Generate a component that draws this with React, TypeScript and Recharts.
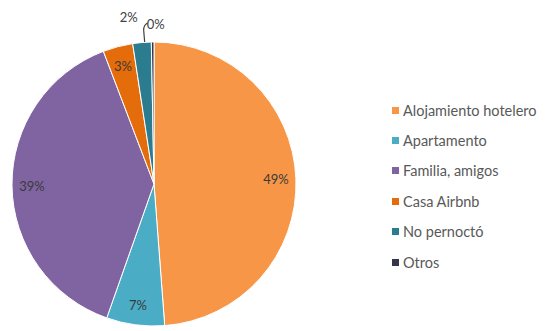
import { PieChart, Pie, Cell, Legend } from "recharts"

const categories = ["Alojamiento hotelero", "Apartamento", "Familia, amigos", "Casa Airbnb", "No pernoctó", "Otros"]
const shares = [48.8, 6.6, 38.8, 3.4, 2.1, 0.3]
const colors = ["#F79646", "#4BACC6", "#8064A2", "#E46C0A", "#2B7C8F", "#36364A"]

const data = categories.map((name, i) => ({ name, value: shares[i] }))

const RADIAN = Math.PI / 180
const FONT = "Lato, 'Open Sans', sans-serif"

function renderLabel(props: any) {
  const { cx, cy, midAngle, outerRadius, percent, index } = props
  const text = `${Math.round(percent * 100)}%`
  const cos = Math.cos(-midAngle * RADIAN)
  const sin = Math.sin(-midAngle * RADIAN)

  if (percent < 0.01) {
    // tiny slice: label outside with a leader line
    const sx = cx + outerRadius * cos
    const sy = cy + outerRadius * sin
    return (
      <g key={`l-${index}`}>
        <path d={`M${sx - 8},${sy} L${sx - 9},${sy - 12} Q${sx - 9},${sy - 17} ${sx - 5},${sy - 19}`} stroke="#404040" fill="none" strokeWidth={1.2} />
        <text x={sx - 6} y={sy - 18} fill="#404040" fontSize={13} fontFamily={FONT} textAnchor="start" dominantBaseline="central">
          {text}
        </text>
      </g>
    )
  }
  if (percent < 0.025) {
    const r = outerRadius + 26
    return (
      <text key={`l-${index}`} x={cx + r * cos - 2} y={cy + r * sin} fill="#404040" fontSize={13} fontFamily={FONT} textAnchor="end" dominantBaseline="central">
        {text}
      </text>
    )
  }
  const r = outerRadius * 0.86
  return (
    <text key={`l-${index}`} x={cx + r * cos} y={cy + r * sin} fill="#3a3a3a" fontSize={13} fontFamily={FONT} textAnchor="middle" dominantBaseline="central">
      {text}
    </text>
  )
}

function renderLegend() {
  return (
    <div style={{ fontFamily: FONT, fontSize: 14.5, color: "#595959" }}>
      {categories.map((name, i) => (
        <div key={name} style={{ height: 30.4, display: "flex", alignItems: "center" }}>
          <span style={{ display: "inline-block", width: 7, height: 7, background: colors[i], marginRight: 4 }} />
          <span>{name}</span>
        </div>
      ))}
    </div>
  )
}

export default function App() {
  return (
    <div style={{ width: 550, height: 331, background: "#fff" }}>
      <style>{"body{margin:0}"}</style>
      <PieChart width={550} height={331} margin={{ top: 0, right: 0, bottom: 0, left: 0 }}>
        <Pie
          data={data}
          dataKey="value"
          nameKey="name"
          cx={154}
          cy={184}
          outerRadius={142}
          startAngle={90}
          endAngle={-270}
          stroke="#fff"
          strokeWidth={1}
          label={renderLabel}
          labelLine={false}
          isAnimationActive={false}
        >
          {data.map((d, i) => (
            <Cell key={d.name} fill={colors[i]} />
          ))}
        </Pie>
        <Legend
          layout="vertical"
          content={renderLegend}
          wrapperStyle={{ left: 392, top: 95, width: 160 }}
        />
      </PieChart>
    </div>
  )
}
